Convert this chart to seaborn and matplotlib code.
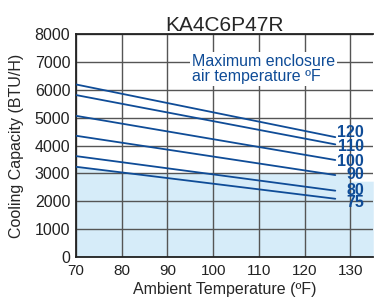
import seaborn as sns
import pandas as pd
import matplotlib.pyplot as plt

# values
series = ["120", "110", "100", "90", "80", "75"]
x_start, x_end = 70, 126.7
y_start = [6190, 5810, 5065, 4350, 3620, 3237]
y_end = [4300, 4040, 3480, 2940, 2380, 2090]
label_y = [4455, 3953, 3440, 2975, 2400, 1970]

# shaded region under the curves
shade_x = [70, 81.7, 130, 130, 135]
shade_y = [3237, 3000, 3000, 2720, 2720]

xticks = [70, 80, 90, 100, 110, 120, 130]
yticks = [0, 1000, 2000, 3000, 4000, 5000, 6000, 7000, 8000]

blue = "#0f4c97"

rows = []
for s, a, b in zip(series, y_start, y_end):
    rows.append({"temp": x_start, "cap": a, "max": s})
    rows.append({"temp": x_end, "cap": b, "max": s})
df = pd.DataFrame(rows)

sns.set_style("white")
plt.rcParams['font.family'] = ['Liberation Sans', 'DejaVu Sans']

fig = plt.figure(figsize=(3.74, 3.06), dpi=100)
ax = fig.add_axes([0.203, 0.16, 0.795, 0.729])

ax.fill_between(shade_x, shade_y, 0, color="#d6ecf9", lw=0, zorder=0)

for x in xticks:
    ax.axvline(x, color="#555555", lw=1, zorder=1)
for y in yticks:
    ax.axhline(y, color="#555555", lw=1, zorder=1)

sns.lineplot(data=df, x="temp", y="cap", hue="max", palette=[blue] * len(series),
             legend=False, lw=1.3, ax=ax, zorder=3)

for s, b in zip(series, label_y):
    ax.text(133, b, s, color=blue, fontsize=11.5, fontweight="bold",
            ha="right", va="center", zorder=4)

ax.text(95.3, 6750, "Maximum enclosure\nair temperature ºF", color=blue,
        fontsize=11.5, ha="left", va="center", linespacing=1.0, zorder=4,
        bbox=dict(facecolor="white", edgecolor="none", pad=1.5))

ax.set_xlim(70, 135)
ax.set_ylim(0, 8000)
ax.set_xticks(xticks)
ax.set_yticks(yticks)
ax.tick_params(axis="both", length=3, pad=1, colors="#222222")
ax.tick_params(axis="x", length=0, pad=5, labelsize=11)
ax.tick_params(axis="y", labelsize=11.5)
for sp in ax.spines.values():
    sp.set_color("#222222")
    sp.set_linewidth(1.3)
ax.spines["right"].set_visible(False)

ax.set_xlabel("Ambient Temperature (ºF)", fontsize=11.5, labelpad=3)
ax.set_ylabel("Cooling Capacity (BTU/H)", fontsize=11.5, labelpad=8)
ax.set_title("KA4C6P47R", fontsize=15, pad=2)

fig.savefig("out.png", dpi=100)
